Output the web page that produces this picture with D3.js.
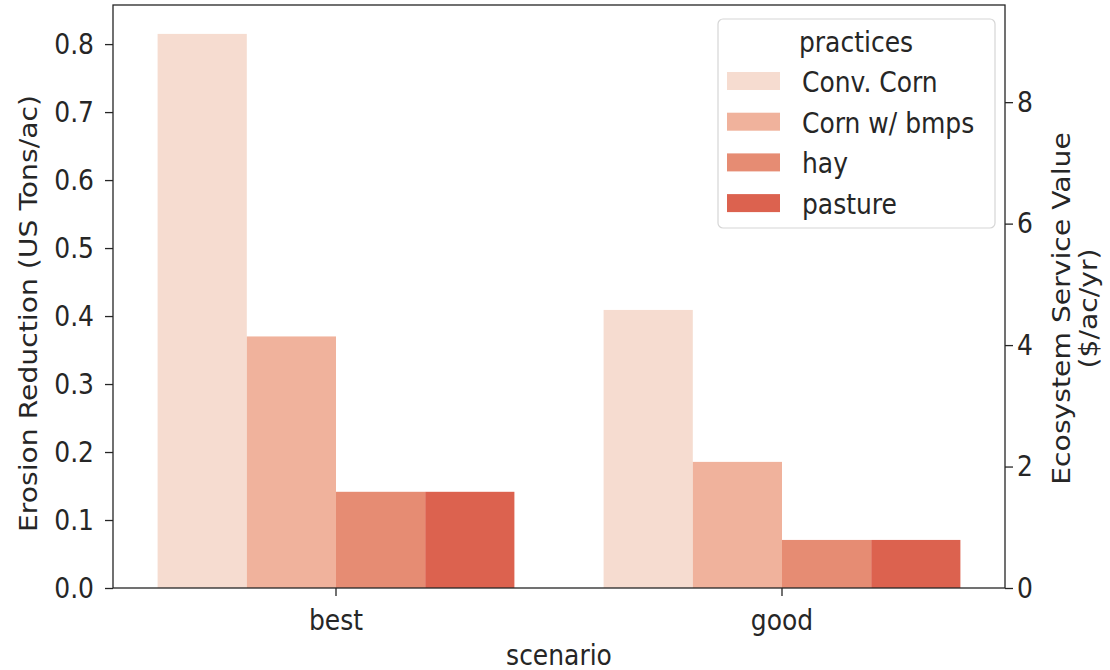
<!DOCTYPE html>
<html><head><meta charset="utf-8">
<script src="https://cdn.jsdelivr.net/npm/d3@7"></script>
<style>body{margin:0;background:#fff}text{font-family:"DejaVu Sans",sans-serif;fill:#262626;font-size:25px}</style>
</head><body><svg id="c" width="1110" height="670"></svg>
<script>
const scenarios = ["best", "good"];
const practices = ["Conv. Corn", "Corn w/ bmps", "hay", "pasture"];
const bestValues = [0.815, 0.370, 0.1415, 0.1415];
const goodValues = [0.409, 0.1855, 0.0707, 0.0707];
const colors = ["#f6dcd0", "#f0b29c", "#e68c73", "#dc624f"];
const leftTicks = [0.0, 0.1, 0.2, 0.3, 0.4, 0.5, 0.6, 0.7, 0.8];
const rightTicks = [0, 2, 4, 6, 8];

const data = [];
scenarios.forEach((s, i) => {
  const vals = i === 0 ? bestValues : goodValues;
  practices.forEach((p, j) => data.push({scenario: s, practice: p, value: vals[j]}));
});

const SY = 1.13; // vertical stretch of the text
const svg = d3.select("#c");
const L = 113, R = 1005, T = 5, B = 588;
const x = d3.scaleBand().domain(scenarios).range([L, R]);
const xi = d3.scaleBand().domain(practices).range([0, x.bandwidth()*0.8]);
const y = d3.scaleLinear().domain([0, 0.8575]).range([B, T]);
const y2 = d3.scaleLinear().domain([0, 9.6]).range([B, T]);
const color = d3.scaleOrdinal().domain(practices).range(colors);

function label(g, tx, ty, str, anchor, rot) {
  return g.append("text")
    .attr("transform", `translate(${tx},${ty}) scale(1,${SY})` + (rot ? ` rotate(${rot})` : ""))
    .attr("text-anchor", anchor || "start").text(str);
}

svg.append("g").selectAll("rect").data(data).join("rect")
  .attr("x", d => x(d.scenario) + x.bandwidth()*0.1 + xi(d.practice))
  .attr("width", xi.bandwidth())
  .attr("y", d => y(d.value))
  .attr("height", d => B - y(d.value))
  .attr("fill", d => color(d.practice));

const gL = svg.append("g").attr("transform", `translate(${L},0)`)
  .call(d3.axisLeft(y).tickValues(leftTicks).tickSizeOuter(0).tickSize(8));
const gR = svg.append("g").attr("transform", `translate(${R},0)`)
  .call(d3.axisRight(y2).tickValues(rightTicks).tickSizeOuter(0).tickSize(8));
const gX = svg.append("g").attr("transform", `translate(0,${B})`)
  .call(d3.axisBottom(x).tickSizeOuter(0).tickSize(8));
[gL, gR, gX].forEach(g => {
  g.selectAll("text").remove();
  g.selectAll("line").attr("stroke", "#262626").attr("stroke-width", 1.3);
  g.select(".domain").remove();
});

const lab = svg.append("g");
leftTicks.forEach(v => label(lab, 94, y(v) + 9.5, d3.format(".1f")(v), "end"));
rightTicks.forEach(v => label(lab, 1017, y2(v) + 9.5, d3.format("d")(v), "start"));
scenarios.forEach(s => label(lab, x(s) + x.bandwidth()/2, 630, s, "middle"));

// frame
svg.append("rect").attr("x", L).attr("y", T).attr("width", R-L).attr("height", B-T)
  .attr("fill", "none").attr("stroke", "#262626").attr("stroke-width", 1.3);

label(svg, 37, (T+B)/2 + 17, "Erosion Reduction (US Tons/ac)", "middle", -90);
const rl = label(svg, 1070, (T+B)/2 + 12, "", "middle", -90);
rl.append("tspan").attr("x", 0).attr("dy", 0).text("Ecosystem Service Value");
rl.append("tspan").attr("x", 0).attr("dy", 27).text("($/ac/yr)");
label(svg, (L+R)/2, 665, "scenario", "middle");

// legend
const lg = svg.append("g");
lg.append("rect").attr("x", 718).attr("y", 19).attr("width", 277).attr("height", 209).attr("rx", 5)
  .attr("fill", "#fff").attr("fill-opacity", 0.85).attr("stroke", "#d6d6d6").attr("stroke-width", 1.2);
label(lg, 856, 52, "practices", "middle");
practices.forEach((p, i) => {
  const cy = 81 + i*40.7;
  lg.append("rect").attr("x", 727).attr("y", cy - 9).attr("width", 53).attr("height", 18).attr("fill", color(p));
  label(lg, 802, cy + 11, p, "start");
});
</script></body></html>
